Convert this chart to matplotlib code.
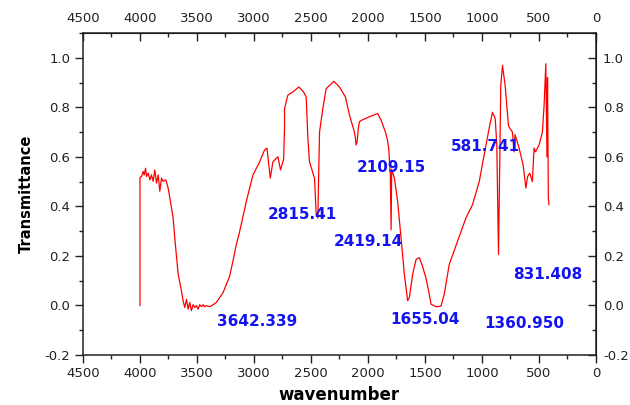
import matplotlib
matplotlib.use("Agg")
import matplotlib.pyplot as plt
from matplotlib.ticker import MultipleLocator, FixedLocator

# FTIR spectrum: wavenumber (cm-1) vs transmittance
wavenumber = [4000, 4000, 3986, 3972, 3963, 3951, 3943, 3928, 3913, 3899, 3884,
              3870, 3855, 3840, 3826, 3811, 3797, 3773, 3753, 3738, 3709, 3695,
              3665, 3636, 3622, 3607, 3592, 3578, 3563, 3549, 3534, 3519, 3505,
              3490, 3476, 3461, 3446, 3432, 3417, 3388, 3359, 3330, 3301, 3271,
              3242, 3213, 3184, 3155, 3130, 3067, 3009, 2950, 2907, 2886, 2857,
              2834, 2790, 2767, 2740, 2732, 2732, 2703, 2659, 2606, 2565, 2542,
              2527, 2513, 2469, 2454, 2440, 2425, 2396, 2367, 2345, 2300, 2250,
              2198, 2162, 2119, 2110, 2104, 2095, 2085, 2075, 2045, 1987, 1915,
              1885, 1847, 1830, 1818, 1804, 1797, 1792, 1768, 1740, 1710, 1681,
              1652, 1637, 1608, 1578, 1550, 1527, 1492, 1462, 1447, 1403, 1360,
              1331, 1287, 1214, 1141, 1083, 1024, 981, 937, 908, 884, 870, 855,
              835, 820, 797, 768, 762, 733, 718, 710, 674, 639, 615, 600, 581,
              558, 543, 530, 499, 470, 455, 440, 430, 425, 418, 412]
transmittance = [0.0, 0.517, 0.521, 0.541, 0.527, 0.554, 0.521, 0.534, 0.507, 0.527, 0.501,
                 0.547, 0.494, 0.527, 0.461, 0.514, 0.501, 0.507, 0.474, 0.434, 0.353, 0.273,
                 0.126, 0.059, 0.019, -0.008, 0.025, -0.015, 0.012, -0.021, 0.003, -0.008, -0.001,
                 -0.015, 0.003, -0.005, 0.003, -0.005, -0.001, -0.005, 0.003, 0.012, 0.032, 0.052,
                 0.086, 0.119, 0.18, 0.246, 0.29, 0.42, 0.527, 0.58, 0.628, 0.635, 0.514,
                 0.58, 0.60, 0.547, 0.59, 0.715, 0.795, 0.849, 0.862, 0.882, 0.862, 0.842,
                 0.675, 0.58, 0.514, 0.367, 0.353, 0.70, 0.795, 0.875, 0.885, 0.905, 0.882,
                 0.842, 0.768, 0.70, 0.675, 0.648, 0.66, 0.715, 0.742, 0.75, 0.762, 0.775,
                 0.748, 0.70, 0.67, 0.635, 0.527, 0.306, 0.55, 0.514, 0.42, 0.273, 0.126,
                 0.019, 0.032, 0.126, 0.186, 0.193, 0.166, 0.112, 0.045, 0.005, -0.005, -0.003,
                 0.045, 0.166, 0.26, 0.353, 0.407, 0.50, 0.608, 0.715, 0.78, 0.755, 0.648, 0.206,
                 0.889, 0.969, 0.889, 0.728, 0.72, 0.70, 0.62, 0.69, 0.635, 0.567, 0.474, 0.52, 0.534,
                 0.50, 0.635, 0.62, 0.648, 0.70, 0.81, 0.976, 0.60, 0.92, 0.434, 0.407]

peak_labels = ["2815.41", "2419.14", "2109.15", "581.741", "831.408",
               "3642.339", "1655.04", "1360.950"]
label_x = [2578, 1996, 1795, 972, 420, 2972, 1501, 626]
label_y = [0.369, 0.26, 0.557, 0.641, 0.126, -0.064, -0.056, -0.072]

x_ticks = [4500, 4000, 3500, 3000, 2500, 2000, 1500, 1000, 500, 0]
y_ticks = [-0.2, 0.0, 0.2, 0.4, 0.6, 0.8, 1.0]

fig = plt.figure(figsize=(6.3, 4.05), dpi=100)
ax = fig.add_axes([0.1317, 0.1235, 0.8143, 0.795])

ax.plot(wavenumber, transmittance, color='red', lw=0.9)

for s, xv, yv in zip(peak_labels, label_x, label_y):
    ax.text(xv, yv, s, color='#1414f0', fontsize=11, fontweight='bold',
            ha='center', va='center')

ax.set_xlim(4500, 0)
ax.set_ylim(-0.2, 1.1)
ax.xaxis.set_major_locator(FixedLocator(x_ticks))
ax.xaxis.set_minor_locator(MultipleLocator(250))
ax.yaxis.set_major_locator(FixedLocator(y_ticks))
ax.yaxis.set_minor_locator(MultipleLocator(0.1))
ax.yaxis.set_major_formatter(lambda v, p: f"{v:.1f}")
ax.tick_params(which='both', direction='out', width=1.0, labelsize=9.5, colors='#222222')
ax.tick_params(which='major', length=5.5)
ax.tick_params(which='minor', length=3)
for sp in ax.spines.values():
    sp.set_linewidth(1.1)
    sp.set_color('#222222')

top = ax.secondary_xaxis('top')
top.xaxis.set_major_locator(FixedLocator(x_ticks))
top.xaxis.set_minor_locator(MultipleLocator(250))
top.tick_params(which='both', direction='in', width=1.0, labelsize=9.5, pad=6, colors='#222222')
top.tick_params(which='major', length=5.5)
top.tick_params(which='minor', length=3)

right = ax.secondary_yaxis('right')
right.yaxis.set_major_locator(FixedLocator(y_ticks))
right.yaxis.set_minor_locator(MultipleLocator(0.1))
right.yaxis.set_major_formatter(lambda v, p: f"{v:.1f}")
right.tick_params(which='both', direction='in', width=1.0, labelsize=9.5, pad=5, colors='#222222')
right.tick_params(which='major', length=5.5)
right.tick_params(which='minor', length=3)

ax.set_xlabel('wavenumber', fontsize=12, fontweight='bold', labelpad=4)
ax.set_ylabel('Transmittance', fontsize=10.5, fontweight='bold', labelpad=8)

fig.savefig('out.png', dpi=100)
